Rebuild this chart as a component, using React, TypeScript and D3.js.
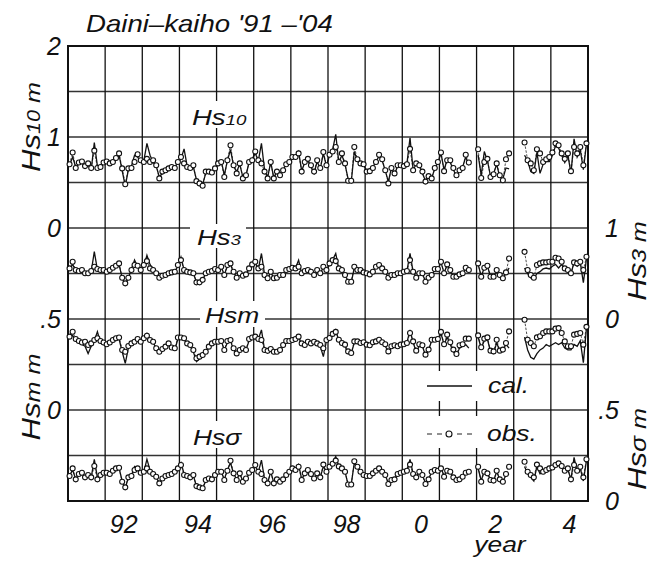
import React from "react";
import * as d3 from "d3";

const _ = null;
const startYear = 1991;
const endYear = 2005;
const tickYears = [1992, 1994, 1996, 1998, 2000, 2002, 2004];
const tickLabels = ["92", "94", "96", "98", "0", "2", "4"];

// monthly values 1991-01 .. 2004-12 (null = missing)
const hs10Obs = [
  .70,.83,.66,.72,.73,.68,.71,.66,.85,.66,.67,.72,
  .73,.71,.725,.77,.82,.655,.48,.655,.66,.725,.81,.745,
  .725,.76,.725,.745,.69,.545,.62,.635,.655,.67,.66,.725,
  .78,.71,.67,.66,.69,.515,.49,.465,.62,.62,.61,.655,
  .71,.725,.56,.745,.91,.69,.60,.71,.545,.58,.725,.745,
  .84,.745,.71,.62,.545,.725,.545,.62,.58,.635,.70,.725,
  .78,.78,.82,.62,.725,.76,.69,.62,.745,.66,.835,.69,
  .805,.84,.89,.725,.82,.71,.52,.52,.89,.755,.71,.70,
  .62,.625,.66,.725,.805,.755,.635,.49,.66,.60,.69,.69,
  .68,.70,.87,.635,.71,.69,.62,.51,.57,.545,.66,.725,
  .83,.625,.745,.745,.66,.58,.635,.66,.805,.72,_,_,
  .865,.55,.725,.76,.56,.59,.71,.58,.525,.755,.82,_,
  _,_,_,.94,.745,.71,.635,.865,.82,.725,.755,.78,
  .83,.93,.91,.82,.76,.82,.625,.89,.82,.89,.69,.93,
];
const hs10Cal = [
  .69,.78,.67,.70,.72,.66,.69,.64,.94,.68,.66,.71,
  .72,.70,.72,.75,.80,.63,.46,.64,.68,.80,.78,.73,
  .74,.93,.80,.72,.68,.56,.60,.64,.66,.67,.67,.72,
  .76,.87,.68,.65,.67,.53,.50,.48,.60,.62,.62,.65,
  .70,.74,.58,.74,.86,.68,.62,.70,.56,.58,.72,.76,
  .82,.74,.93,.64,.56,.72,.55,.63,.60,.64,.70,.72,
  .76,.79,.84,.63,.72,.74,.67,.60,.73,.65,.82,.68,
  .80,.86,1.03,.72,.80,.70,.54,.50,.84,.74,.70,.69,
  .63,.63,.67,.73,.79,.74,.63,.51,.66,.59,.68,.69,
  .68,.71,.99,.64,.70,.68,.60,.52,.58,.55,.65,.72,
  .82,.64,.75,.72,.64,.57,.63,.67,.78,.69,_,_,
  .80,.58,.84,.74,.57,.60,.70,.56,.54,.66,.65,_,
  _,_,_,.80,.74,.62,.60,.83,.60,.70,.73,.73,
  .80,.90,.88,.80,.72,.80,.60,.98,.78,.86,.64,.92,
];
const hs3Obs = [
  .556,.629,.538,.527,.538,.502,.502,.527,.575,.55,.538,.538,
  .52,.538,.563,.585,.611,.454,.392,.454,.538,.593,.585,.538,
  .593,.636,.556,.538,.502,.454,.476,.483,.502,.512,.52,.593,
  .647,.538,.52,.512,.502,.403,.403,.43,.502,.52,.527,.549,
  .538,.575,.483,.593,.611,.52,.454,.502,.476,.49,.556,.60,
  .629,.556,.575,.483,.447,.52,.447,.454,.483,.483,.538,.549,
  .563,.556,.575,.502,.527,.538,.52,.483,.538,.502,.575,.538,
  .611,.647,.636,.556,.538,.483,.41,.41,.575,.538,.538,.512,
  .502,.49,.52,.575,.593,.556,.52,.454,.483,.483,.502,.502,
  .52,.527,.647,.52,.454,.502,.502,.41,.454,.483,.549,.549,
  .629,.502,.60,.538,.465,.465,.49,.502,.563,.538,_,_,
  .611,.465,.563,.585,.465,.465,.538,.483,.447,.512,.665,_,
  _,_,_,.738,.538,.483,.454,.593,.611,.622,.622,.629,
  .629,.673,.665,.629,.556,.538,.502,.622,.611,.629,.538,.684,
];
const hs3Cal = [
  .55,.60,.53,.52,.53,.50,.49,.52,.74,.54,.53,.53,
  .52,.53,.55,.58,.60,.45,.38,.45,.55,.647,.57,.53,
  .58,.70,.60,.53,.50,.46,.47,.48,.50,.51,.52,.58,
  .68,.54,.51,.50,.50,.41,.40,.43,.50,.51,.52,.55,
  .54,.57,.49,.58,.60,.51,.46,.50,.48,.49,.55,.59,
  .61,.55,.72,.49,.45,.51,.45,.46,.48,.48,.53,.55,
  .56,.56,.647,.50,.52,.53,.51,.48,.53,.50,.57,.53,
  .60,.65,.72,.55,.53,.48,.42,.40,.56,.53,.53,.51,
  .50,.49,.52,.57,.58,.55,.51,.46,.48,.48,.50,.50,
  .52,.53,.72,.52,.46,.50,.49,.42,.45,.48,.54,.54,
  .62,.51,.59,.53,.47,.46,.49,.50,.55,.52,_,_,
  .60,.47,.56,.58,.47,.46,.53,.48,.45,.50,.56,_,
  _,_,_,.56,.50,.45,.44,.50,.52,.55,.56,.55,
  .58,.60,.56,.60,.54,.53,.50,.62,.58,.62,.40,.66,
];
const hsmObs = [
  .403,.43,.39,.379,.371,.375,.357,.366,.385,.394,.379,.371,
  .361,.371,.385,.394,.398,.33,.32,.352,.366,.375,.39,.375,
  .394,.408,.385,.375,.339,.32,.335,.348,.366,.343,.339,.398,
  .398,.394,.366,.357,.33,.284,.293,.302,.32,.348,.366,.375,
  .375,.379,.33,.379,.385,.339,.311,.33,.339,.33,.39,.398,
  .403,.39,.385,.33,.325,.335,.32,.32,.33,.357,.379,.379,
  .385,.39,.403,.366,.357,.375,.366,.375,.366,.357,.339,.385,
  .396,.418,.429,.386,.368,.359,.322,.313,.377,.377,.368,.372,
  .359,.356,.372,.377,.386,.372,.361,.322,.35,.356,.35,.359,
  .361,.368,.423,.377,.326,.361,.356,.304,.332,.386,.386,.39,
  .429,.361,.414,.372,.332,.308,.356,.361,.392,.392,_,_,
  .41,.345,.392,.399,.326,.322,.386,.326,.332,.368,.432,_,
  _,_,_,.496,.386,.368,.35,.399,.405,.423,.432,.432,
  .432,.447,.45,.423,.377,.35,.35,.414,.418,.423,.359,.457,
];
const hsmCal = [
  .40,.41,.38,.37,.36,.35,.31,.35,.38,.43,.37,.36,
  .36,.37,.38,.39,.39,.32,.256,.34,.36,.38,.38,.37,
  .39,.42,.38,.37,.34,.32,.33,.34,.36,.34,.33,.39,
  .39,.39,.36,.35,.32,.266,.28,.30,.32,.34,.36,.37,
  .37,.38,.33,.37,.38,.33,.31,.33,.33,.33,.38,.39,
  .40,.39,.44,.33,.32,.33,.31,.32,.33,.35,.37,.38,
  .38,.39,.40,.36,.35,.37,.36,.37,.36,.35,.293,.38,
  .39,.41,.44,.38,.36,.35,.31,.31,.37,.37,.36,.37,
  .36,.35,.37,.37,.38,.37,.35,.32,.34,.35,.35,.35,
  .36,.37,.44,.37,.32,.35,.35,.30,.33,.38,.38,.38,
  .42,.36,.40,.36,.32,.30,.34,.35,.36,.34,_,_,
  .40,.34,.38,.39,.32,.31,.37,.32,.33,.36,.34,_,
  _,_,_,.40,.33,.29,.28,.31,.33,.34,.36,.35,
  .36,.37,.36,.37,.34,.33,.33,.36,.35,.38,.26,.45,
];
const hssObs = [
  .137,.179,.119,.148,.155,.13,.143,.13,.192,.119,.143,.155,
  .155,.148,.166,.179,.183,.106,.075,.13,.137,.17,.179,.155,
  .161,.179,.161,.148,.133,.097,.124,.137,.143,.148,.161,.179,
  .198,.143,.137,.13,.143,.082,.075,.07,.115,.124,.119,.143,
  .161,.161,.115,.166,.221,.152,.115,.152,.106,.124,.155,.17,
  .198,.161,.148,.115,.097,.161,.097,.119,.106,.119,.143,.161,
  .179,.17,.188,.115,.152,.17,.148,.124,.152,.13,.2,.161,
  .188,.205,.222,.19,.179,.161,.091,.091,.218,.188,.161,.143,
  .137,.137,.152,.166,.179,.161,.143,.093,.115,.119,.148,.155,
  .161,.166,.2,.148,.13,.161,.143,.093,.119,.161,.17,.166,
  .179,.133,.166,.161,.13,.115,.119,.133,.155,.161,_,_,
  .188,.106,.161,.152,.115,.112,.166,.119,.106,.148,.188,_,
  _,_,_,.216,.161,.143,.13,.2,.179,.161,.17,.179,
  .184,.198,.207,.192,.166,.179,.119,.198,.166,.188,.13,.229,
];
const hssCal = [
  .14,.17,.12,.15,.15,.13,.14,.13,.229,.13,.14,.15,
  .15,.15,.16,.18,.18,.11,.07,.13,.14,.19,.18,.15,
  .16,.229,.17,.15,.13,.10,.12,.13,.14,.15,.16,.18,
  .21,.15,.14,.13,.14,.08,.08,.07,.11,.12,.12,.14,
  .16,.16,.12,.17,.21,.15,.12,.15,.11,.12,.15,.17,
  .19,.16,.225,.12,.10,.16,.10,.12,.11,.12,.14,.16,
  .18,.17,.20,.12,.15,.17,.15,.12,.15,.13,.19,.16,
  .19,.21,.245,.19,.18,.16,.09,.09,.21,.18,.16,.14,
  .14,.14,.15,.17,.18,.16,.14,.10,.12,.12,.15,.15,
  .16,.17,.229,.15,.13,.16,.14,.10,.12,.16,.17,.16,
  .18,.14,.17,.16,.13,.12,.12,.13,.15,.15,_,_,
  .18,.11,.17,.15,.12,.11,.16,.12,.11,.14,.15,_,
  _,_,_,.19,.15,.13,.11,.19,.15,.16,.17,.17,
  .18,.19,.20,.19,.16,.17,.12,.24,.16,.18,.11,.22,
];

const FONT = "'Liberation Sans', Arial, sans-serif";

function T({ x, y, size, children, anchor = "start", sx = 1.2, rotate = 0 }: any) {
  return (
    <text
      transform={`translate(${x},${y}) rotate(${rotate}) scale(${sx},1)`}
      fontSize={size}
      fontStyle="italic"
      fontFamily={FONT}
      textAnchor={anchor}
      fill="#111"
    >
      {children}
    </text>
  );
}

export default function App() {
  const L = 68, R = 588, TOP = 46, BOT = 501;
  const x = d3.scaleLinear().domain([startYear, endYear]).range([L, R]);
  const frame = d3.scaleLinear().domain([0, 10]).range([BOT, TOP]);
  const hs10Y = d3.scaleLinear().domain([0, 2]).range([frame(6), frame(10)]);
  const hs3Y = d3.scaleLinear().domain([0, 1]).range([frame(4), frame(6)]);
  const hsmY = d3.scaleLinear().domain([0, 0.5]).range([frame(2), frame(4)]);
  const hssY = d3.scaleLinear().domain([0, 0.5]).range([frame(0), frame(2)]);
  const tm = (i: number) => startYear + (i + 0.5) / 12;

  const panels = [
    { obs: hs10Obs, cal: hs10Cal, y: hs10Y },
    { obs: hs3Obs, cal: hs3Cal, y: hs3Y },
    { obs: hsmObs, cal: hsmCal, y: hsmY },
    { obs: hssObs, cal: hssCal, y: hssY },
  ];

  const leftTicks = [
    { s: hs10Y, v: 2, t: "2" }, { s: hs10Y, v: 1, t: "1" }, { s: hs10Y, v: 0, t: "0" },
    { s: hsmY, v: 0.5, t: ".5" }, { s: hsmY, v: 0, t: "0" },
  ];
  const rightTicks = [
    { s: hs3Y, v: 1, t: "1" }, { s: hs3Y, v: 0, t: "0" },
    { s: hssY, v: 0.5, t: ".5" }, { s: hssY, v: 0, t: "0" },
  ];

  const years = d3.range(startYear, endYear + 1);
  const hLines = d3.range(0, 11);

  return (
    <svg width={658} height={563} style={{ position: "absolute", left: 0, top: 0, background: "#fff" }}>
      <rect width={658} height={563} fill="#fff" />
      {/* grid */}
      {hLines.map((h) => (
        <line key={"h" + h} x1={L} x2={R} y1={frame(h)} y2={frame(h)} stroke="#333" strokeWidth={1.4} />
      ))}
      {years.map((yr) => (
        <line key={"v" + yr} x1={x(yr)} x2={x(yr)} y1={TOP} y2={BOT} stroke="#111" strokeWidth={1.3} />
      ))}
      <rect x={L} y={TOP} width={R - L} height={BOT - TOP} fill="none" stroke="#111" strokeWidth={2} />

      {/* label backgrounds */}
      <rect x={188} y={101} width={59} height={27} fill="#fff" />
      <rect x={190} y={224} width={56} height={24} fill="#fff" />
      <rect x={200} y={301} width={65} height={26} fill="#fff" />
      <rect x={189} y={421} width={58} height={27} fill="#fff" />
      <rect x={419} y={371} width={90} height={30} fill="#fff" />
      <rect x={419} y={416} width={90} height={32} fill="#fff" />

      {/* data */}
      {panels.map((p, k) => {
        const line = d3
          .line<number | null>()
          .defined((d) => d != null)
          .x((d, i) => x(tm(i)))
          .y((d) => p.y(d as number));
        return (
          <g key={"p" + k}>
            <path d={line(p.obs) || ""} fill="none" stroke="#222" strokeWidth={0.8} strokeDasharray="2.5,1.5" />
            <path d={line(p.cal) || ""} fill="none" stroke="#111" strokeWidth={1.3} strokeLinejoin="miter" />
            {p.obs.map((d, i) =>
              d == null ? null : (
                <circle key={i} cx={x(tm(i))} cy={p.y(d)} r={2.5} fill="#fff" stroke="#111" strokeWidth={1.1} />
              )
            )}
          </g>
        );
      })}

      {/* series labels */}
      <T x={192} y={125} size={22} sx={1.25}>Hs<tspan fontSize={15}>10</tspan></T>
      <T x={197} y={245} size={22} sx={1.25}>Hs<tspan fontSize={15}>3</tspan></T>
      <T x={205} y={323} size={22} sx={1.2}>Hsm</T>
      <T x={193} y={445} size={22} sx={1.2}>Hsσ</T>

      {/* legend */}
      <line x1={427} x2={472} y1={386} y2={386} stroke="#111" strokeWidth={1.3} />
      <line x1={427} x2={472} y1={434} y2={434} stroke="#222" strokeWidth={1} strokeDasharray="5,5" />
      <circle cx={449} cy={434} r={3} fill="#fff" stroke="#111" strokeWidth={1.1} />
      <T x={488} y={393} size={22}>cal.</T>
      <T x={487} y={441} size={22}>obs.</T>

      {/* tick labels */}
      {leftTicks.map((t, i) => (
        <T key={"lt" + i} x={61} y={t.s(t.v) + 9} size={25} sx={1} anchor="end">{t.t}</T>
      ))}
      {rightTicks.map((t, i) => (
        <T key={"rt" + i} x={619} y={t.s(t.v) + 9} size={25} sx={1} anchor="end">{t.t}</T>
      ))}
      {tickYears.map((yr, i) => (
        <T key={"xt" + i} x={x(yr + 0.5)} y={533} size={25} sx={1} anchor="middle">{tickLabels[i]}</T>
      ))}
      <T x={500} y={552} size={22} anchor="middle">year</T>

      {/* axis titles */}
      <T x={40} y={127} size={26} rotate={-90} anchor="middle">Hs<tspan fontSize={18}>10</tspan><tspan fontSize={21}> m</tspan></T>
      <T x={40} y={397} size={26} rotate={-90} anchor="middle">Hs<tspan fontSize={21}>m m</tspan></T>
      <T x={646} y={261} size={26} rotate={-90} anchor="middle">Hs<tspan fontSize={20}>3</tspan><tspan fontSize={21}> m</tspan></T>
      <T x={646} y={449} size={26} rotate={-90} anchor="middle">Hs<tspan fontSize={22}>σ</tspan><tspan fontSize={21}> m</tspan></T>

      {/* title */}
      <T x={86} y={32} size={23}>Daini–kaiho '91 –'04</T>
    </svg>
  );
}
